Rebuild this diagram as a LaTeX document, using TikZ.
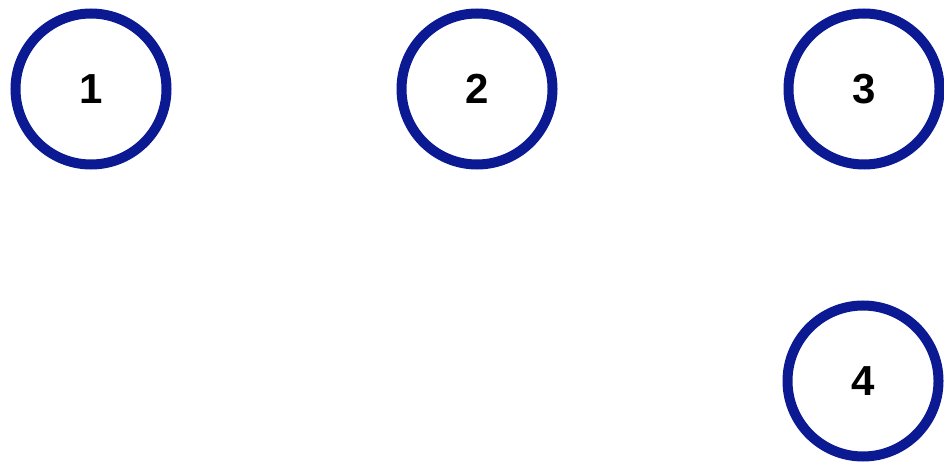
\documentclass[tikz,border=0pt]{standalone}
\usepackage{fontspec}
\setmainfont{Liberation Sans}
\definecolor{ringblue}{HTML}{0B1A92}
\begin{document}
\begin{tikzpicture}[x=1pt,y=-1pt,
  ring/.style={circle,draw=ringblue,line width=10pt,minimum size=151pt,inner sep=0pt,
    font=\fontsize{42}{42}\selectfont\bfseries,text=black}]
\useasboundingbox (0,0) rectangle (944,462);
\node[ring] (n1) at (91,89) {1};
\node[ring] (n2) at (477,89) {2};
\node[ring] (n3) at (864,89) {3};
\node[ring] (n4) at (863,381) {4};
\end{tikzpicture}
\end{document}
